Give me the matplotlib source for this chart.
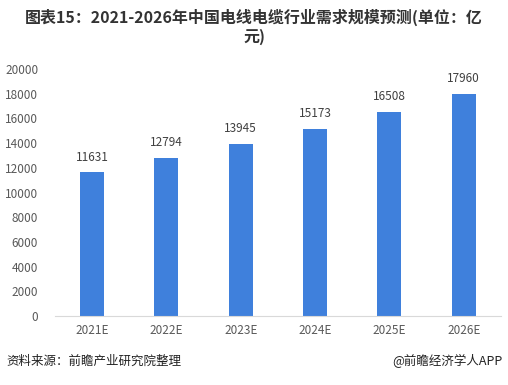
import matplotlib.pyplot as plt

plt.rcParams['font.family'] = ['Noto Sans CJK SC', 'DejaVu Sans']

years = ['2021E', '2022E', '2023E', '2024E', '2025E', '2026E']
values = [11631, 12794, 13945, 15173, 16508, 17960]
yticks = list(range(0, 20001, 2000))

fig = plt.figure(figsize=(5.08, 3.85), dpi=100)
ax = fig.add_axes([0.108, 0.179, 0.878, 0.642])

x = range(len(years))
bars = ax.bar(x, values, width=0.32, color='#3f80dc', zorder=2)
for xi, v in zip(x, values):
    ax.text(xi, v + 700, str(v), ha='center', va='bottom', fontsize=8.5, color='#404040')

ax.set_xlim(-0.5, len(years) - 0.5)
ax.set_ylim(0, 20000)
ax.set_yticks(yticks)
ax.set_xticks(list(x))
ax.set_xticklabels(years)
ax.tick_params(axis='both', length=0, labelsize=8.5, colors='#595959')
ax.tick_params(axis='y', pad=12)
ax.tick_params(axis='x', pad=6)
for s in ['top', 'right', 'left']:
    ax.spines[s].set_visible(False)
ax.spines['bottom'].set_color('#d9d9d9')

fig.text(0.5, 0.955, '图表15：2021-2026年中国电线电缆行业需求规模预测(单位：亿', ha='center', va='center',
         fontsize=11.5, fontweight='bold', color='#333333')
fig.text(0.5, 0.903, '元)', ha='center', va='center', fontsize=11.5, fontweight='bold', color='#333333')
fig.text(0.012, 0.062, '资料来源：前瞻产业研究院整理', ha='left', va='center', fontsize=9, color='#222222')
fig.text(0.99, 0.062, '@前瞻经济学人APP', ha='right', va='center', fontsize=9, color='#222222')

fig.savefig('out.png', dpi=100)
